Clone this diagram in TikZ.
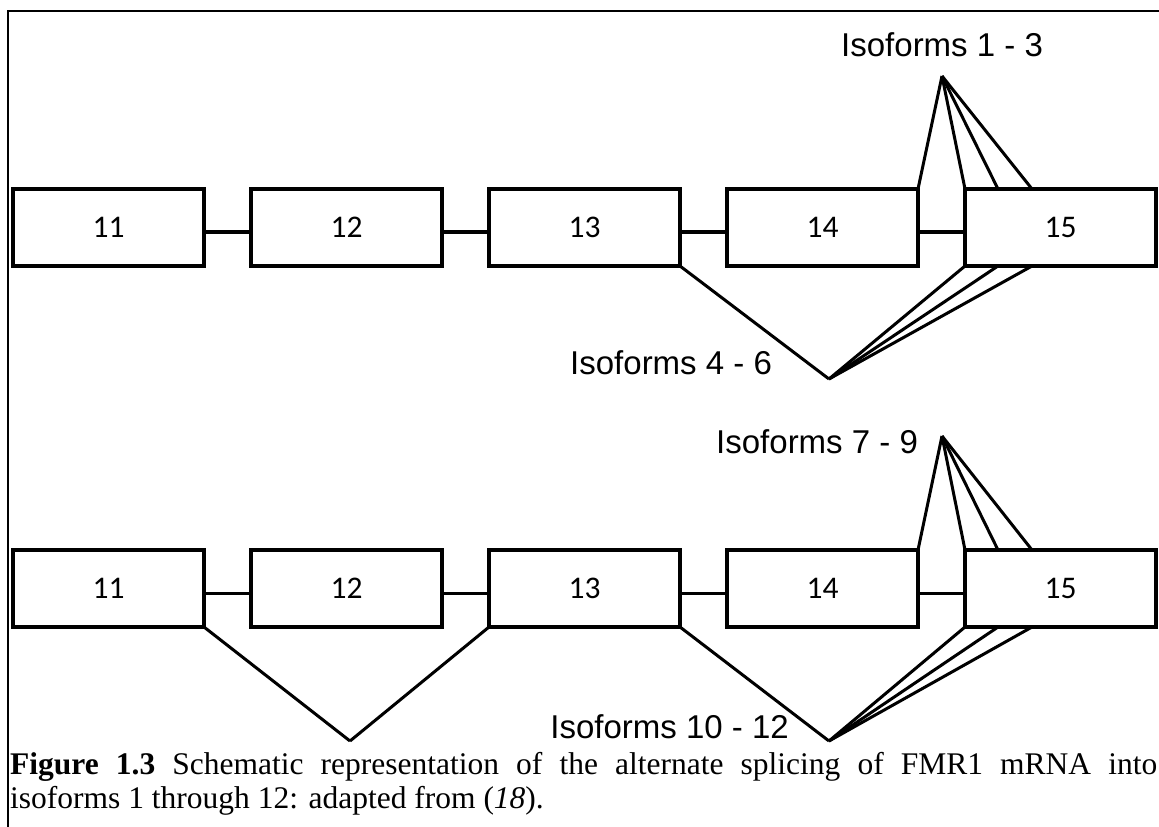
\documentclass[tikz,border=0pt]{standalone}
\usepackage{fontspec}
\setmainfont{Liberation Serif}
\newfontfamily\arialf{Liberation Sans}
\newfontfamily\calif{Carlito}
\usetikzlibrary{calc}
\newcommand\capsize{\fontsize{31.5}{35}\selectfont}
\newcommand\exsize{\calif\fontsize{31.5}{35}\selectfont}
\newcommand\labsize{\arialf\fontsize{33}{38}\selectfont}
\begin{document}
\begin{tikzpicture}[x=1pt,y=-1pt,
  exon/.style={draw, line width=3.5pt, minimum width=191pt, minimum height=77pt,
    inner sep=0pt, outer sep=0pt},
  link/.style={line width=3.5pt},
  splice/.style={line width=3pt},
  lab/.style={inner sep=0pt},
  captext/.style={inner sep=0pt},
  borderline/.style={line width=2.5pt}]
\useasboundingbox (0,0) rectangle (1159,827);
\draw[borderline] (1159,11) -- (8,11) -- (8,827);

\foreach \n/\x in {11/108.5,12/346.5,13/584.5,14/822.5,15/1060.5} {
  \node[exon] (t\n) at (\x,227.5) {\exsize \n};
  \node[exon] (u\n) at (\x,588.5) {\exsize \n};
}
\foreach \a/\b in {11/12,12/13,13/14,14/15} {
  \draw[link] ($(t\a.east)+(0,4.5)$) -- ($(t\b.west)+(0,4.5)$);
  \draw[link] ($(u\a.east)+(0,5)$) -- ($(u\b.west)+(0,5)$);
}

\coordinate (A1) at (942,76);
\coordinate (A2) at (829,379);
\coordinate (A3) at (942,436);
\coordinate (A4) at (350,741);
\coordinate (A5) at (829,741);

\draw[splice] (A1) -- (t14.north east);
\draw[splice] (A1) -- (t15.north west);
\draw[splice] (A1) -- ($(t15.north west)+(33,0)$);
\draw[splice] (A1) -- ($(t15.north west)+(67,0)$);
\draw[splice] (A2) -- (t13.south east);
\draw[splice] (A2) -- (t15.south west);
\draw[splice] (A2) -- ($(t15.south west)+(33,0)$);
\draw[splice] (A2) -- ($(t15.south west)+(67,0)$);

\draw[splice] (A3) -- (u14.north east);
\draw[splice] (A3) -- (u15.north west);
\draw[splice] (A3) -- ($(u15.north west)+(33,0)$);
\draw[splice] (A3) -- ($(u15.north west)+(67,0)$);
\draw[splice] (A4) -- (u11.south east);
\draw[splice] (A4) -- (u13.south west);
\draw[splice] (A5) -- (u13.south east);
\draw[splice] (A5) -- (u15.south west);
\draw[splice] (A5) -- ($(u15.south west)+(33,0)$);
\draw[splice] (A5) -- ($(u15.south west)+(67,0)$);

\node[lab, anchor=base west] (L1) at (841,56) {\labsize Isoforms 1 - 3};
\node[lab, anchor=base west] (L2) at (570,374) {\labsize Isoforms 4 - 6};
\node[lab, anchor=base west] (L3) at (716,453) {\labsize Isoforms 7 - 9};
\node[lab, anchor=base east] (L4) at (789,738) {\labsize Isoforms 10 - 12};

\node[captext, anchor=base west] (C1) at (10,774)
  {\capsize\makebox[1147pt][s]{\textbf{Figure 1.3} Schematic representation of the alternate splicing of FMR1 mRNA into}};
\node[captext, anchor=base west] (C2) at (10,808)
  {\capsize isoforms 1 through 12: adapted from (\textit{18}).};
\end{tikzpicture}
\end{document}
